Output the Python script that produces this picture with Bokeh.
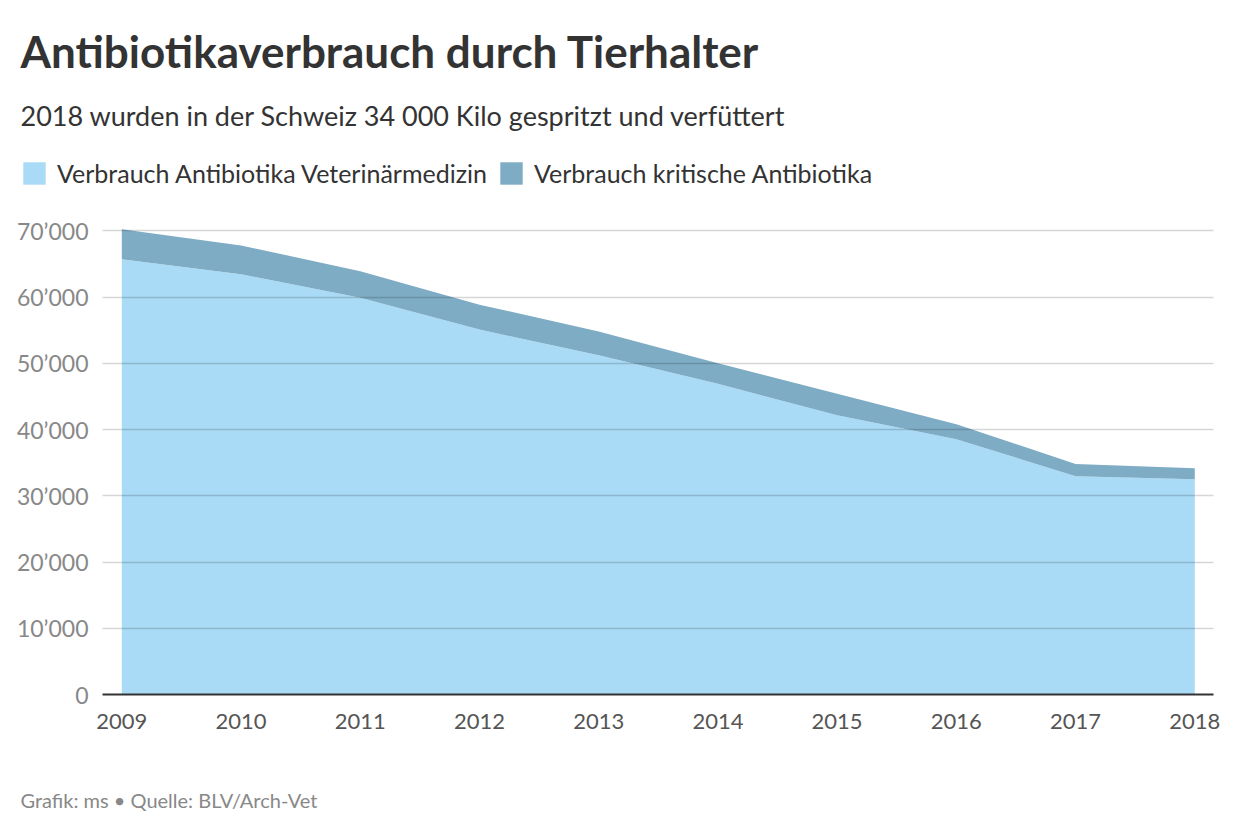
from bokeh.plotting import figure
from bokeh.layouts import column
from bokeh.models import Range1d, FixedTicker, Legend, LegendItem, ColumnDataSource, Label
from bokeh.embed import file_html
from bokeh.resources import INLINE

years = [2009, 2010, 2011, 2012, 2013, 2014, 2015, 2016, 2017, 2018]
vet = [65700, 63450, 59900, 55100, 51200, 46900, 42150, 38550, 32950, 32500]
kritisch = [4550, 4350, 4000, 3750, 3600, 3100, 3250, 2250, 1850, 1650]
series_names = ["Verbrauch Antibiotika Veterinärmedizin", "Verbrauch kritische Antibiotika"]
series_colors = ["#a9daf6", "#7eacc5"]
y_ticks = [0, 10000, 20000, 30000, 40000, 50000, 60000, 70000]
y_tick_labels = ["0", "10’000", "20’000", "30’000", "40’000", "50’000", "60’000", "70’000"]

FONT = "Lato"
W = 1224
HEAD_H = 200
MAIN_H = 544
FOOT_H = 80

source = ColumnDataSource(data=dict(year=years, vet=vet, krit=kritisch))


def blank(height):
    f = figure(width=W, height=height, output_backend="svg", toolbar_location=None,
               x_range=Range1d(0, W), y_range=Range1d(0, height),
               x_axis_type=None, y_axis_type=None,
               min_border_left=0, min_border_right=0, min_border_top=0, min_border_bottom=0)
    if "frame_align" in f.properties():
        f.frame_align = False
    f.outline_line_color = None
    f.grid.visible = False
    f.background_fill_color = "white"
    f.border_fill_color = "white"
    return f


# ---------- header: title, subtitle, legend ----------
head = blank(HEAD_H)
head.add_layout(Label(x=20, y=HEAD_H - 64 + 14, x_units="screen", y_units="screen",
                      text="Antibiotikaverbrauch durch Tierhalter", text_font=FONT,
                      text_font_size="44px", text_font_style="bold", text_color="#333333",
                      text_baseline="alphabetic"))
head.add_layout(Label(x=20, y=HEAD_H - 126 + 11, x_units="screen", y_units="screen",
                      text="2018 wurden in der Schweiz 34 000 Kilo gespritzt und verfüttert",
                      text_font=FONT, text_font_size="27px", text_color="#333333",
                      text_baseline="alphabetic"))

# legend swatches: same stacked series, drawn outside the header's visible x range
proxies = head.varea_stack(["vet", "krit"], x="year", source=source, color=series_colors)
legend = Legend(items=[LegendItem(label=n, renderers=[r]) for n, r in zip(series_names, proxies)],
                location=(20, HEAD_H - 188), orientation="horizontal",
                glyph_width=28, glyph_height=28, label_height=28,
                label_text_font=FONT, label_text_font_size="25px",
                label_text_color="#333333", label_standoff=9, spacing=10,
                padding=0, margin=0, border_line_color=None, background_fill_alpha=0)
head.add_layout(legend, "center")

# ---------- main chart ----------
p = figure(width=W, height=MAIN_H, output_backend="svg", toolbar_location=None,
           x_range=Range1d(2008.838, 2018.157), y_range=Range1d(0, 70500),
           min_border_left=102, min_border_right=11, min_border_top=27, min_border_bottom=50)
if "frame_align" in p.properties():
    p.frame_align = False
p.outline_line_color = None
p.background_fill_color = "white"
p.border_fill_color = "white"

p.varea_stack(["vet", "krit"], x="year", source=source, color=series_colors)

p.xgrid.visible = False
p.ygrid.ticker = FixedTicker(ticks=y_ticks)
p.ygrid.grid_line_color = "#000000"
p.ygrid.grid_line_alpha = 0.16
p.ygrid.grid_line_width = 1.5
p.ygrid.level = "overlay"

p.yaxis.ticker = FixedTicker(ticks=y_ticks)
p.yaxis.major_label_overrides = {t: l for t, l in zip(y_ticks, y_tick_labels)}
p.yaxis.axis_line_color = None
p.yaxis.major_tick_line_color = None
p.yaxis.minor_tick_line_color = None
p.yaxis.major_label_standoff = 8
p.yaxis.major_label_text_font = FONT
p.yaxis.major_label_text_font_size = "23px"
p.yaxis.major_label_text_color = "#888888"

p.xaxis.ticker = FixedTicker(ticks=years)
p.xaxis.major_label_overrides = {y: str(y) for y in years}
p.xaxis.axis_line_color = "#333333"
p.xaxis.axis_line_width = 2
p.xaxis.major_tick_line_color = None
p.xaxis.minor_tick_line_color = None
p.xaxis.major_label_standoff = 13
p.xaxis.major_label_text_font = FONT
p.xaxis.major_label_text_font_size = "22px"
p.xaxis.major_label_text_color = "#555555"

# ---------- footer ----------
foot = blank(FOOT_H)
foot.add_layout(Label(x=20, y=25, x_units="screen", y_units="screen",
                      text="Grafik: ms • Quelle: BLV/Arch-Vet", text_font=FONT,
                      text_font_size="20px", text_color="#888888",
                      text_baseline="middle"))

layout = column(head, p, foot, spacing=0)
open("out.html", "w").write(file_html(layout, INLINE))
